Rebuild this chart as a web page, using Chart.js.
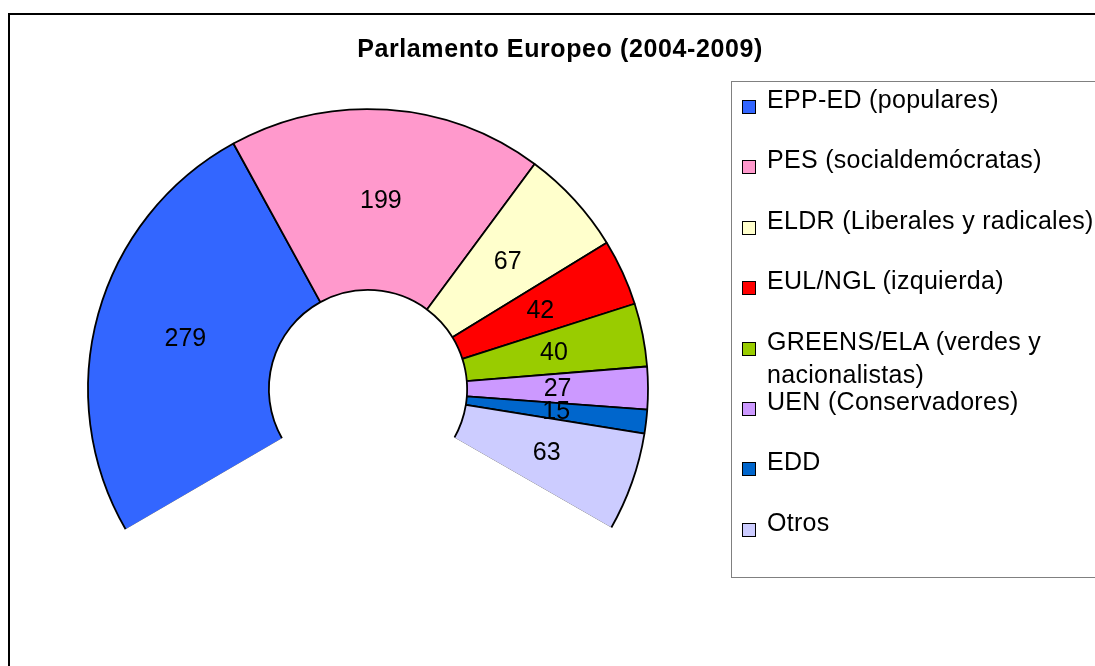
<!DOCTYPE html>
<html>
<head>
<meta charset="utf-8">
<script src="https://cdn.jsdelivr.net/npm/chart.js@4"></script>
<style>
  html, body { margin:0; padding:0; background:#fff; width:1095px; height:666px; overflow:hidden; }
  #frame { position:absolute; left:8px; top:13px; width:1300px; height:900px; border-left:2px solid #000; border-top:2px solid #000; }
  #legendBox { position:absolute; left:731px; top:81px; width:600px; height:495px; border:1px solid #808080; }
  #title { position:absolute; left:0; top:36px; width:1120px; text-align:center; font:bold 25px "Liberation Sans", Arial, sans-serif; line-height:25px; letter-spacing:0.6px; color:#000; }
  #chart { position:absolute; left:0; top:0; }
  .item { position:absolute; left:767px; width:335px; font:25px "Liberation Sans", Arial, sans-serif; line-height:33px; letter-spacing:0.3px; color:#000; white-space:normal; }
  .sw { position:absolute; left:742px; width:12px; height:12px; border:1px solid #000; }
</style>
</head>
<body>
<div id="frame"></div>
<div id="legendBox"></div>
<canvas id="chart" width="1095" height="666"></canvas>
<div id="title">Parlamento Europeo (2004-2009)</div>
<div id="legend"></div>
<script>
// ---- data ----
const chartTitle = 'Parlamento Europeo (2004-2009)';
const categories = [
  'EPP-ED (populares)',
  'PES (socialdemócratas)',
  'ELDR (Liberales y radicales)',
  'EUL/NGL (izquierda)',
  'GREENS/ELA (verdes y nacionalistas)',
  'UEN (Conservadores)',
  'EDD',
  'Otros'
];
const seats = [279, 199, 67, 42, 40, 27, 15, 63];
const colors = ['#3366FF', '#FF99CC', '#FFFFCC', '#FF0000', '#99CC00', '#CC99FF', '#0066CC', '#CCCCFF'];

// ---- html legend ----
const legend = document.getElementById('legend');
categories.forEach((name, i) => {
  const baseline = 108 + 60.4 * i;
  const sw = document.createElement('div');
  sw.className = 'sw';
  sw.style.top = (baseline - 8) + 'px';
  sw.style.background = colors[i];
  legend.appendChild(sw);
  const t = document.createElement('div');
  t.className = 'item';
  t.style.top = (baseline - 25) + 'px';
  t.textContent = name;
  legend.appendChild(t);
});

// ---- plugins ----
const hideEnds = {
  id: 'hideEnds',
  afterDatasetsDraw(chart) {
    const arcs = chart.getDatasetMeta(0).data;
    const c = chart.ctx;
    c.save();
    c.strokeStyle = '#ffffff';
    c.lineWidth = 3.6;
    c.lineCap = 'butt';
    const first = arcs[0], last = arcs[arcs.length - 1];
    [[first, 'startAngle', 1], [last, 'endAngle', -1]].forEach(([el, key, s]) => {
      const p = el.getProps(['x', 'y', 'innerRadius', 'outerRadius', key]);
      const a = p[key];
      const ox = Math.sin(a) * 0.9 * s, oy = -Math.cos(a) * 0.9 * s;
      c.beginPath();
      c.moveTo(p.x + Math.cos(a) * (p.innerRadius - 3) + ox, p.y + Math.sin(a) * (p.innerRadius - 3) + oy);
      c.lineTo(p.x + Math.cos(a) * (p.outerRadius + 3) + ox, p.y + Math.sin(a) * (p.outerRadius + 3) + oy);
      c.stroke();
    });
    c.restore();
  }
};

const valueLabels = {
  id: 'valueLabels',
  afterDatasetsDraw(chart) {
    const arcs = chart.getDatasetMeta(0).data;
    const c = chart.ctx;
    c.save();
    c.font = '25px "Liberation Sans", Arial, sans-serif';
    c.fillStyle = '#000';
    c.textAlign = 'center';
    c.textBaseline = 'middle';
    arcs.forEach((el, i) => {
      const p = el.tooltipPosition();
      c.fillText(String(seats[i]), p.x, p.y + 1);
    });
    c.restore();
  }
};

new Chart(document.getElementById('chart'), {
  type: 'doughnut',
  data: {
    labels: categories,
    datasets: [{
      data: seats,
      backgroundColor: colors,
      borderColor: '#000000',
      borderWidth: 1.8
    }]
  },
  options: {
    responsive: false,
    animation: false,
    events: [],
    rotation: -120.2,
    circumference: 240,
    radius: 280,
    cutout: '35.4%',
    layout: { padding: { left: 0, right: 359, top: 0, bottom: 27 } },
    plugins: {
      legend: { display: false },
      title: { display: false },
      tooltip: { enabled: false }
    }
  },
  plugins: [hideEnds, valueLabels]
});
</script>
</body>
</html>
